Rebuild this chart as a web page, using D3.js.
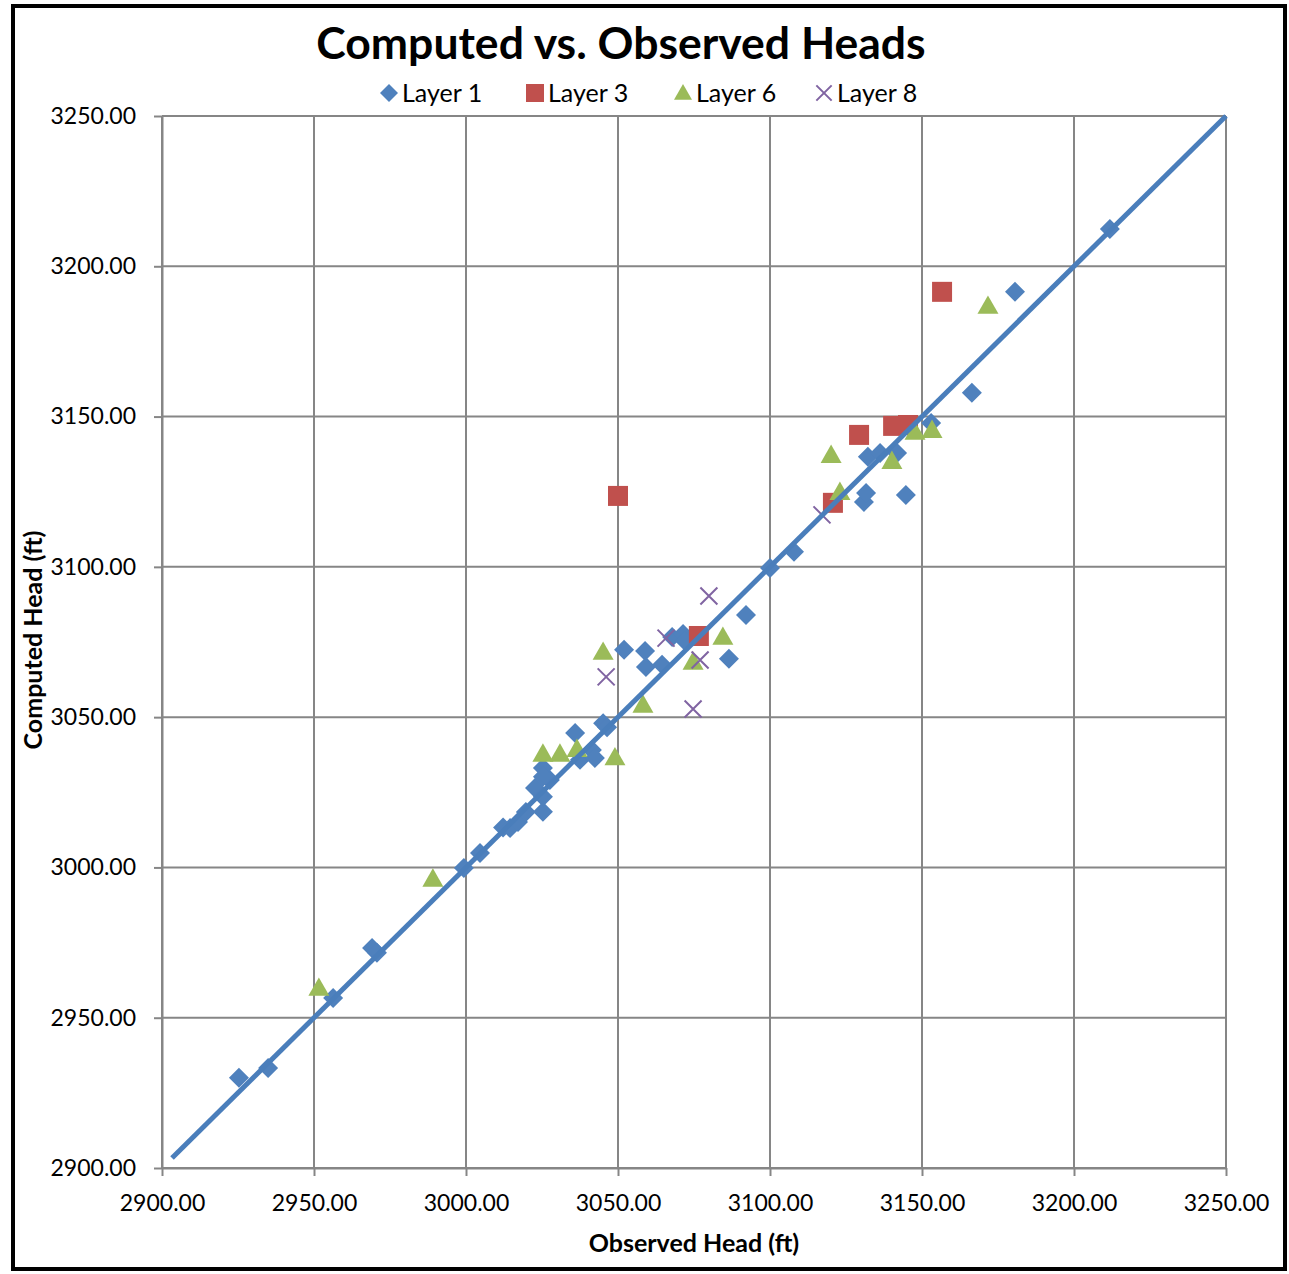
<!DOCTYPE html>
<html>
<head>
<meta charset="utf-8">
<script src="https://cdn.jsdelivr.net/npm/d3@7"></script>
<style>
  html, body { margin: 0; padding: 0; background: #fff; }
  svg { display: block; }
  text { font-family: Lato, "Open Sans", "Liberation Sans", sans-serif; fill: #000; }
</style>
</head>
<body>
<svg id="chart" width="1289" height="1274"></svg>
<script>
// ---- Data (observed, computed) ----
const layer1Observed = [2925.3, 2934.9, 2956.3, 2969.1, 2970.7, 2999.3, 3004.6, 3012.2, 3014.5, 3017.1,
  3019.7, 3025.3, 3022.7, 3025.3, 3027.6, 3025.3, 3025.3, 3035.9, 3037.5, 3041.4,
  3042.4, 3045.1, 3046.4, 3052.0, 3058.9, 3059.2, 3064.5, 3067.8, 3071.4, 3072.0,
  3086.5, 3092.1, 3100.0, 3107.9, 3130.9, 3131.6, 3132.2, 3136.2, 3141.8, 3144.7,
  3153.0, 3166.4, 3180.6, 3211.8];
const layer1Computed = [2930.0, 2933.3, 2956.6, 2973.2, 2971.6, 2999.8, 3004.8, 3013.3, 3013.1, 3015.1,
  3018.4, 3018.5, 3026.4, 3023.5, 3029.1, 3033.1, 3030.2, 3044.7, 3035.8, 3039.1,
  3036.4, 3048.0, 3046.6, 3072.4, 3072.0, 3066.7, 3067.4, 3076.7, 3077.7, 3075.3,
  3069.4, 3084.0, 3099.6, 3105.0, 3121.6, 3124.6, 3136.6, 3137.9, 3137.9, 3123.9,
  3147.9, 3157.9, 3191.5, 3212.4];

const layer3Observed = [3050.0, 3076.6, 3120.7, 3129.3, 3140.5, 3145.4, 3156.6];
const layer3Computed = [3123.6, 3077.0, 3121.3, 3143.9, 3146.9, 3147.2, 3191.5];

const layer6Observed = [2951.6, 2989.1, 3025.3, 3030.9, 3036.5, 3049.0, 3045.1, 3058.2, 3074.7, 3084.5,
  3120.1, 3123.0, 3140.1, 3147.7, 3153.3, 3171.7];
const layer6Computed = [2959.9, 2996.2, 3037.8, 3037.8, 3039.4, 3036.6, 3071.7, 3054.1, 3068.4, 3076.7,
  3137.2, 3124.9, 3135.2, 3144.9, 3145.5, 3186.8];

const layer8Observed = [3046.1, 3065.8, 3077.0, 3079.9, 3074.7, 3117.1];
const layer8Computed = [3063.4, 3076.3, 3069.0, 3090.3, 3052.7, 3117.3];

const lineObserved = [2903.3, 3250.0];
const lineComputed = [2903.3, 3250.0];

const ticks = [2900, 2950, 3000, 3050, 3100, 3150, 3200, 3250];
const seriesNames = ["Layer 1", "Layer 3", "Layer 6", "Layer 8"];

const titleText = "Computed vs. Observed Heads";
const xTitle = "Observed Head (ft)";
const yTitle = "Computed Head (ft)";

// ---- Build ----
const zip = (a, b) => a.map((v, i) => ({x: v, y: b[i]}));
const series = [
  {name: seriesNames[0], pts: zip(layer1Observed, layer1Computed), shape: "diamond", color: "#4F81BD"},
  {name: seriesNames[1], pts: zip(layer3Observed, layer3Computed), shape: "square", color: "#C0504D"},
  {name: seriesNames[2], pts: zip(layer6Observed, layer6Computed), shape: "triangle", color: "#9BBB59"},
  {name: seriesNames[3], pts: zip(layer8Observed, layer8Computed), shape: "x", color: "#8064A2"}
];

const svg = d3.select("#chart");
const plot = {left: 162, right: 1226, top: 116, bottom: 1168};

const x = d3.scaleLinear().domain([2900, 3250]).range([plot.left, plot.right]);
const y = d3.scaleLinear().domain([2900, 3250]).range([plot.bottom, plot.top]);

// outer frame
svg.append("rect").attr("x", 13).attr("y", 6).attr("width", 1272).attr("height", 1263)
  .attr("fill", "#fff").attr("stroke", "#000").attr("stroke-width", 4);

// gridlines
const grid = svg.append("g");
grid.selectAll("line.v").data(ticks).join("line")
  .attr("x1", d => x(d)).attr("x2", d => x(d)).attr("y1", plot.top).attr("y2", plot.bottom)
  .attr("stroke", "#868686").attr("stroke-width", 2);
grid.selectAll("line.h").data(ticks).join("line").attr("class", "h")
  .attr("y1", d => y(d)).attr("y2", d => y(d)).attr("x1", plot.left).attr("x2", plot.right)
  .attr("stroke", "#868686").attr("stroke-width", 2);

// axes
const fmt = d3.format(".2f");
const xAxis = d3.axisBottom(x).tickValues(ticks).tickFormat(fmt).tickSizeInner(8).tickSizeOuter(0).tickPadding(19);
const yAxis = d3.axisLeft(y).tickValues(ticks).tickFormat(fmt).tickSizeInner(8).tickSizeOuter(0).tickPadding(18);

const gx = svg.append("g").attr("transform", `translate(0,${plot.bottom})`).call(xAxis);
const gy = svg.append("g").attr("transform", `translate(${plot.left},0)`).call(yAxis);
[gx, gy].forEach(g => {
  g.select(".domain").attr("stroke", "#868686").attr("stroke-width", 2);
  g.selectAll(".tick line").attr("stroke", "#868686").attr("stroke-width", 2);
  g.selectAll(".tick text").attr("font-size", 23).attr("font-family", "Lato, sans-serif").attr("fill", "#000");
});
gx.selectAll(".tick text").attr("dy", "0.71em");

// markers
function drawMarker(sel, shape, color, s) {
  if (shape === "diamond") {
    sel.append("path").attr("d", `M0,${-s}L${s},0L0,${s}L${-s},0Z`).attr("fill", color);
  } else if (shape === "square") {
    sel.append("rect").attr("x", -s).attr("y", -s).attr("width", 2 * s).attr("height", 2 * s).attr("fill", color);
  } else if (shape === "triangle") {
    sel.append("path").attr("d", `M0,${-s}L${s},${s * 0.75}L${-s},${s * 0.75}Z`).attr("fill", color);
  } else {
    const k = s * 0.85;
    sel.append("path").attr("d", `M${-k},${-k}L${k},${k}M${-k},${k}L${k},${-k}`)
      .attr("stroke", color).attr("stroke-width", 2).attr("fill", "none");
  }
}

const sizes = {diamond: 10, square: 10, triangle: 10.5, x: 10};
series.forEach(sr => {
  const g = svg.append("g");
  g.selectAll("g").data(sr.pts).join("g")
    .attr("transform", d => `translate(${x(d.x)},${y(d.y)})`)
    .each(function() { drawMarker(d3.select(this), sr.shape, sr.color, sizes[sr.shape]); });
});

// 1:1 line
const line = d3.line().x(d => x(d.x)).y(d => y(d.y));
svg.append("path").datum(zip(lineObserved, lineComputed)).attr("d", line)
  .attr("fill", "none").attr("stroke", "#4A7EBB").attr("stroke-width", 5).attr("stroke-linecap", "butt");

// title
svg.append("text").attr("x", 621).attr("y", 59).attr("text-anchor", "middle")
  .attr("font-size", 44.5).attr("font-weight", "bold").text(titleText);

// axis titles
svg.append("text").attr("x", 694).attr("y", 1252).attr("text-anchor", "middle")
  .attr("font-size", 25).attr("font-weight", "bold").text(xTitle);
svg.append("text").attr("transform", "translate(42,640) rotate(-90)").attr("text-anchor", "middle")
  .attr("font-size", 25).attr("font-weight", "bold").text(yTitle);

// legend
const legendX = [389, 535, 683, 824];
const lg = svg.append("g");
series.forEach((sr, i) => {
  const g = lg.append("g").attr("transform", `translate(${legendX[i]},93)`);
  drawMarker(g, sr.shape, sr.color, 9);
  g.append("text").attr("x", 13).attr("y", 0).attr("dy", "0.36em").attr("font-size", 25).text(sr.name);
});
</script>
</body>
</html>
